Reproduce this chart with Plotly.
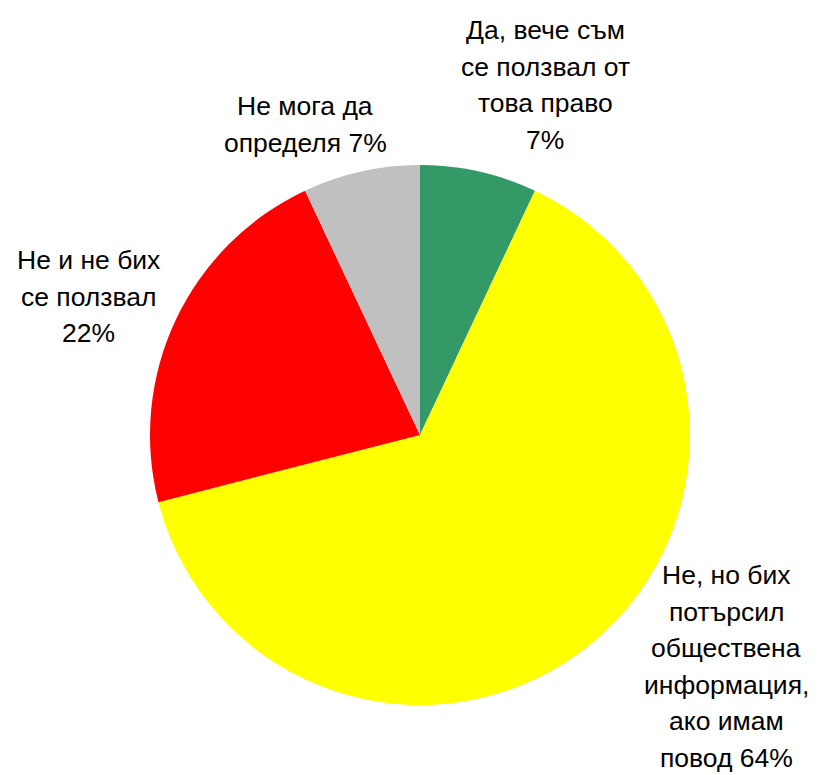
import plotly.graph_objects as go

labels = ["Да, вече съм се ползвал от това право", "Не, но бих потърсил обществена информация, ако имам повод",
          "Не и не бих се ползвал", "Не мога да определя"]
values = [7, 64, 22, 7]
colors = ["#339966", "#FFFF00", "#FF0000", "#C0C0C0"]
label_lines = [
    ["Да, вече съм", "се ползвал от", "това право", "7%"],
    ["Не, но бих", "потърсил", "обществена", "информация,", "ако имам", "повод 64%"],
    ["Не и не бих", "се ползвал", "22%"],
    ["Не мога да", "определя 7%"],
]
# label block anchors (pixel centre x, first-line centre y)
label_pos = [(545, 30), (726, 575), (88, 260), (305, 106)]

W, H = 819, 775
OFF = 8  # page body margin offset
fig = go.Figure(go.Pie(
    labels=labels, values=values, sort=False, direction="clockwise", rotation=0,
    marker=dict(colors=colors, line=dict(width=0)),
    textinfo="none", hoverinfo="label+percent", showlegend=False,
    domain=dict(x=[(150 - OFF) / W, (690 - OFF) / W], y=[(H - 705 + OFF) / H, (H - 165 + OFF) / H]),
))

anns = []
for lines, (px, py) in zip(label_lines, label_pos):
    for i, t in enumerate(lines):
        y = py + i * 36.6 - OFF
        anns.append(dict(text=t, x=(px - OFF) / W, y=1 - y / H, xref="paper", yref="paper",
                         xanchor="center", yanchor="middle", showarrow=False,
                         font=dict(family="Liberation Sans, Arial", size=26.5, color="black")))

fig.update_layout(width=W, height=H, margin=dict(l=0, r=0, t=0, b=0),
                  paper_bgcolor="white", plot_bgcolor="white", annotations=anns)
fig.write_html("out.html")
